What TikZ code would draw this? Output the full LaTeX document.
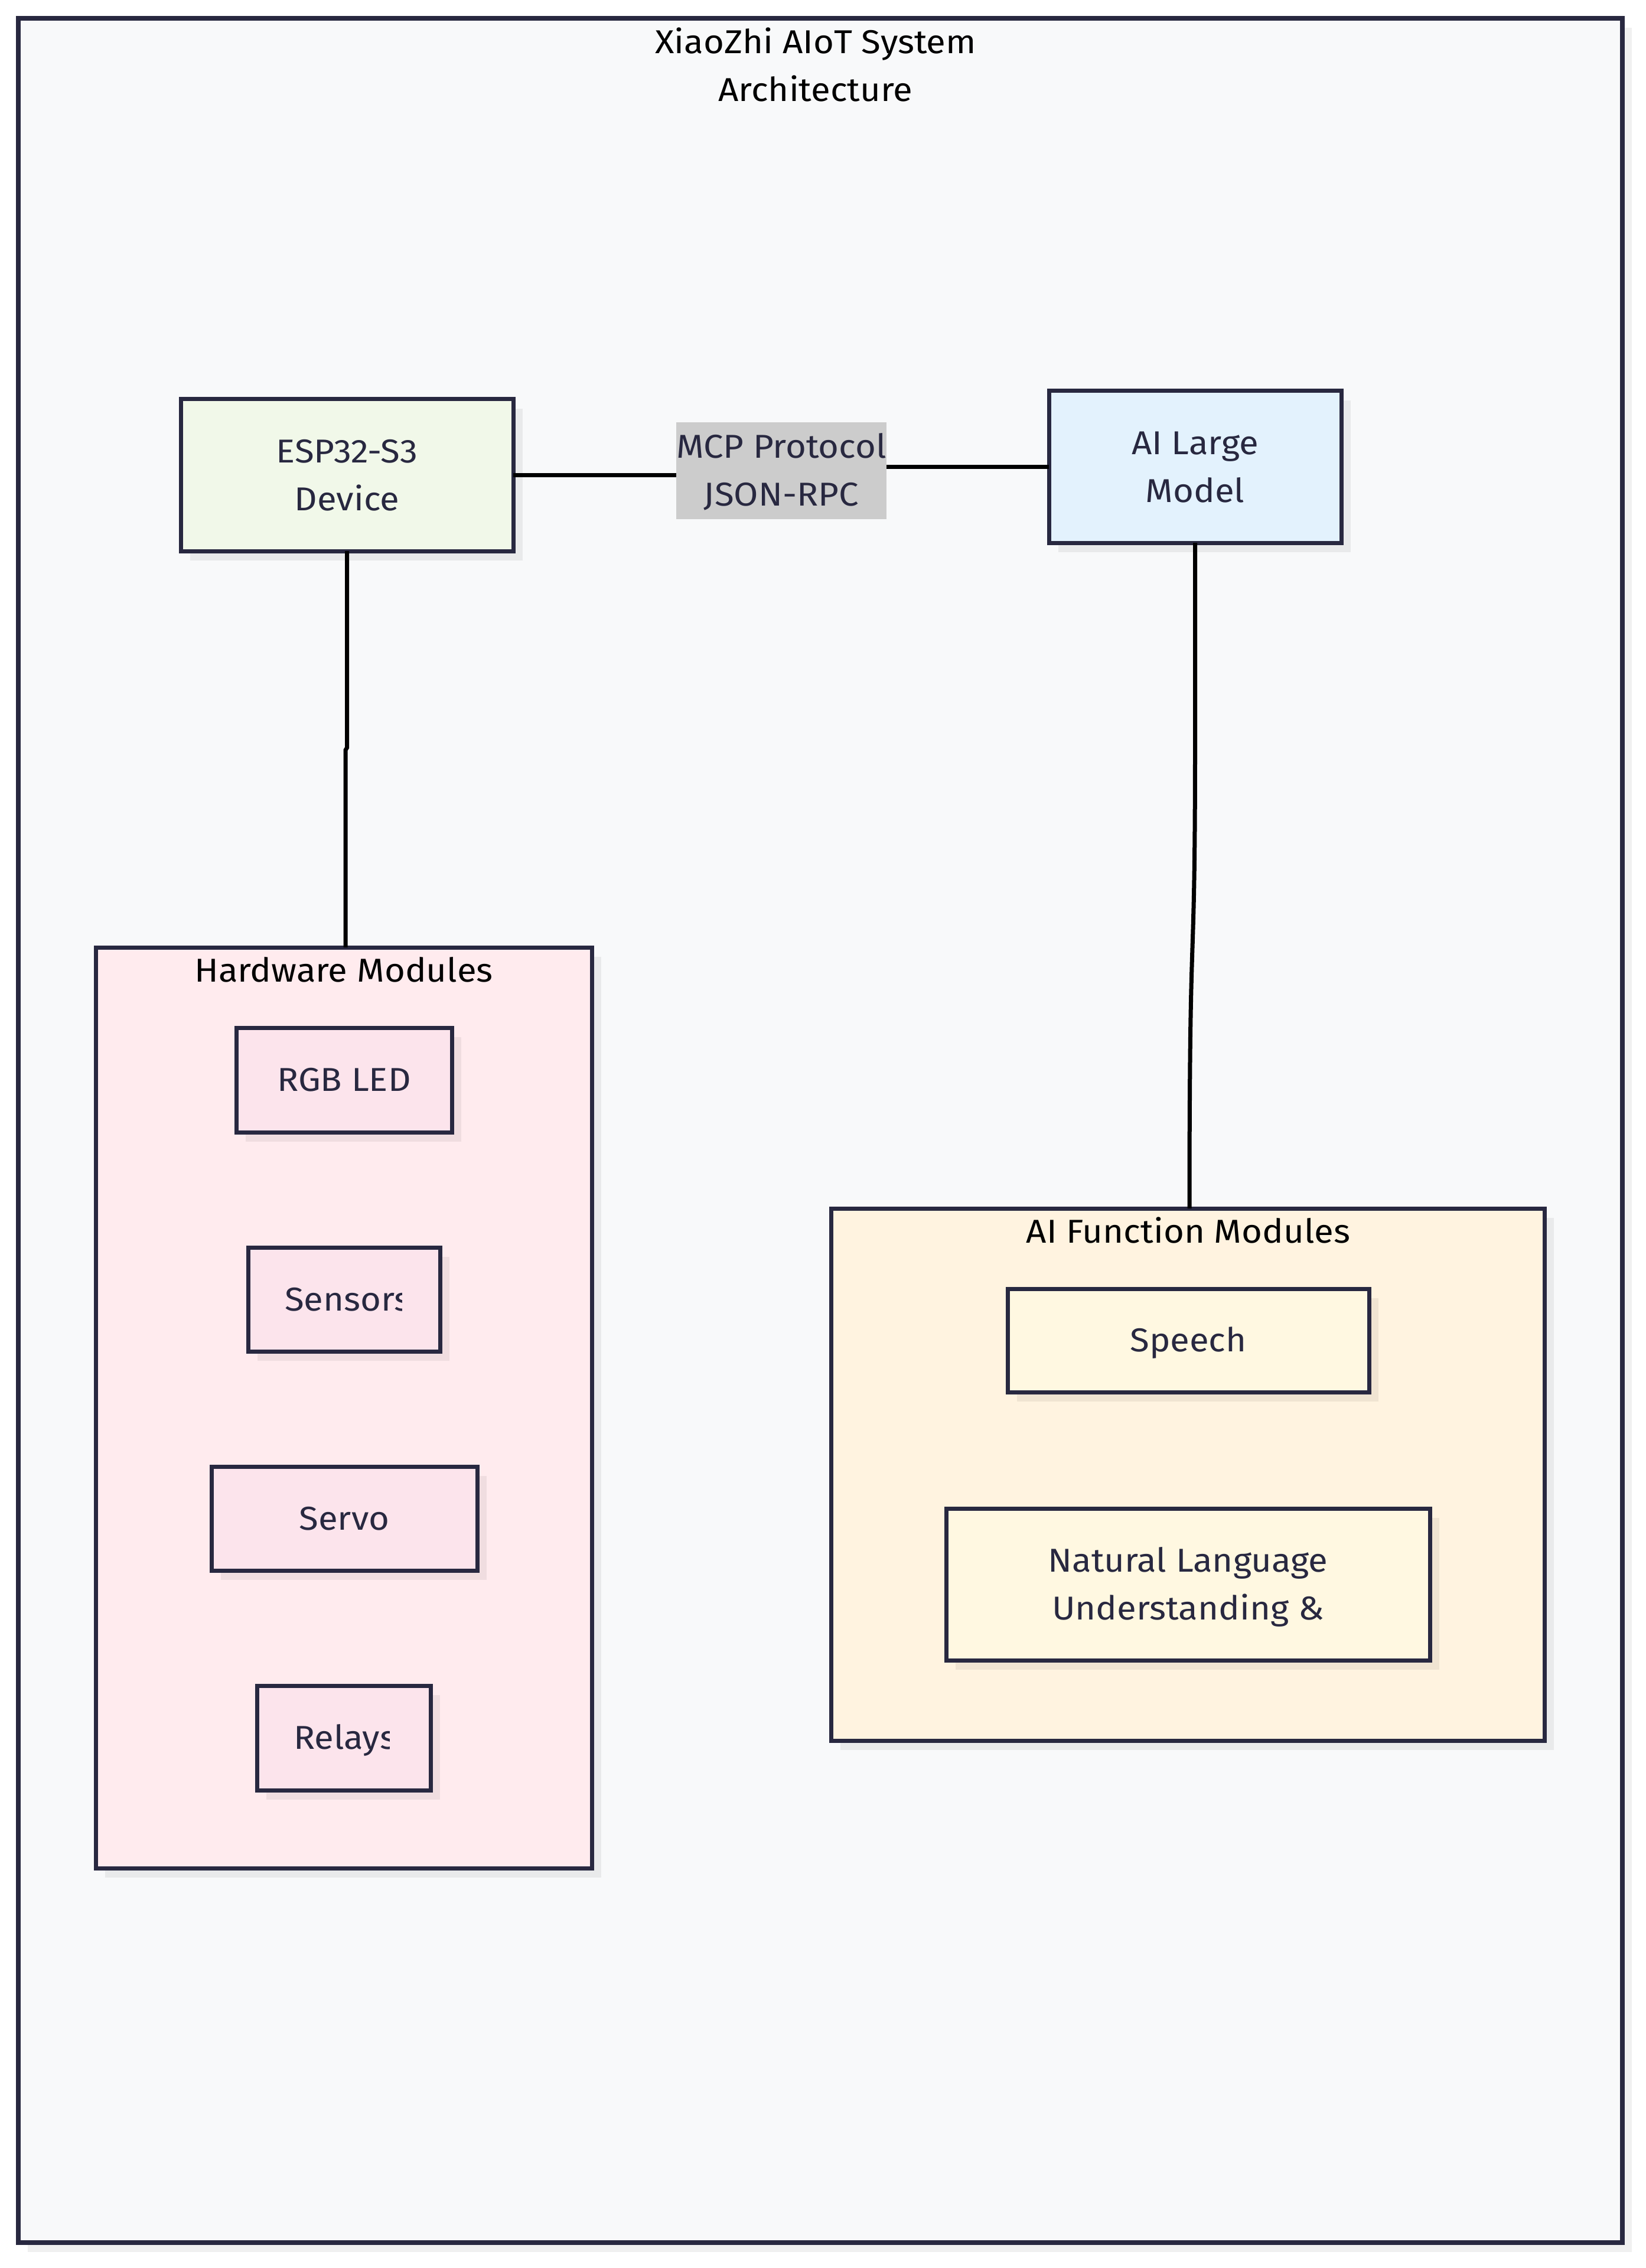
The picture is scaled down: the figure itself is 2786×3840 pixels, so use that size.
\documentclass[tikz,border=0pt]{standalone}
\usepackage{fontspec}
\setmainfont[FakeStretch=1.07]{Fira Sans}
\usetikzlibrary{shadows}
\definecolor{ink}{HTML}{282840}
\definecolor{framefill}{HTML}{F8F9FA}
\definecolor{espfill}{HTML}{F1F8E9}
\definecolor{aifill}{HTML}{E3F2FD}
\definecolor{lblfill}{HTML}{CCCCCC}
\definecolor{hwfill}{HTML}{FFEBEE}
\definecolor{hwnode}{HTML}{FCE4EC}
\definecolor{affill}{HTML}{FFF3E0}
\definecolor{afnode}{HTML}{FFF8E1}
\newcommand\capst{\rule[-0.25em]{0pt}{1.19em}}
\newcommand\fs{\fontsize{14pt}{20.25pt}\selectfont}
\tikzset{
  shade box/.style={drop shadow={shadow xshift=4pt,shadow yshift=-4pt,fill=black,opacity=0.06}},
  boxnode/.style={rectangle, draw=ink, line width=1.75pt, inner sep=0pt, outer sep=0pt,
    align=center, font=\fs, text=ink, shade box},
  cluster/.style={rectangle, draw=ink, line width=1.75pt, inner sep=0pt, outer sep=0pt, shade box},
  ttl/.style={inner sep=0pt, outer sep=0pt, align=center, font=\fs, text=black},
  txt/.style={inner sep=0pt, outer sep=0pt, font=\fs, text=ink},
  link/.style={draw=black, line width=1.75pt},
}
\begin{document}
\begin{tikzpicture}[x=0.25pt,y=-0.25pt]
\useasboundingbox[fill=white] (0,0) rectangle (2786,3840);
% outer frame
\node[cluster, line width=2pt, fill=framefill, minimum width={2716*0.25pt}, minimum height={3766*0.25pt}] (frame) at (1389,1914) {};
\node[ttl] (title) at (1381,111.5) {\capst XiaoZhi AIoT System\\\capst Architecture};
% clusters
\node[cluster, fill=hwfill, minimum width={840*0.25pt}, minimum height={1559*0.25pt}] (hw) at (582,2383.5) {};
\node[ttl] (hwtitle) at (582,1643) {\capst Hardware Modules};
\node[cluster, fill=affill, minimum width={1208*0.25pt}, minimum height={901*0.25pt}] (af) at (2011,2496.5) {};
\node[ttl] (aftitle) at (2012,2085) {\capst AI Function Modules};
% main nodes
\node[boxnode, fill=espfill, minimum width={563*0.25pt}, minimum height={257*0.25pt}] (esp) at (587.5,804.5) {\capst ESP32-S3\\\capst Device};
\node[boxnode, fill=aifill, minimum width={495*0.25pt}, minimum height={257*0.25pt}] (ai) at (2023.5,790.5) {\capst AI Large\\\capst Model};
% hardware nodes
\node[boxnode, fill=hwnode, minimum width={365*0.25pt}, minimum height={177*0.25pt}] (rgb) at (582.5,1828.5) {\capst RGB LED};
\node[boxnode, fill=hwnode, minimum width={325*0.25pt}, minimum height={176*0.25pt}] (sensors) at (582.5,2200) {};
\node[boxnode, fill=hwnode, minimum width={450*0.25pt}, minimum height={176*0.25pt}] (servo) at (583,2571) {\capst Servo};
\node[boxnode, fill=hwnode, minimum width={294*0.25pt}, minimum height={177*0.25pt}] (relays) at (582,2942.5) {};
\begin{scope}
  \clip (420,2112) rectangle (680,2288);
  \node[txt, anchor=west] (sensorstxt) at (482,2200) {\capst Sensors};
\end{scope}
\begin{scope}
  \clip (435,2854) rectangle (659,3031);
  \node[txt, anchor=west] (relaystxt) at (497,2942.5) {\capst Relays};
\end{scope}
% AI function nodes
\node[boxnode, fill=afnode, minimum width={612*0.25pt}, minimum height={175*0.25pt}] (speech) at (2012,2269.5) {\capst Speech};
\node[boxnode, fill=afnode, minimum width={819*0.25pt}, minimum height={257*0.25pt}] (nlu) at (2011.5,2682.5) {\capst Natural Language\\\capst Understanding \&};
% connectors
\coordinate (hwin) at (585,1604);
\coordinate (afin) at (2014,2046);
\node[txt, fill=lblfill, align=center, minimum width={356*0.25pt}, minimum height={164*0.25pt}] (lbl) at (1323,797) {\capst MCP Protocol\\\capst JSON-RPC};
\draw[link] (esp.east) -- (esp.east -| lbl.west);
\draw[link] (lbl.east |- ai.west) -- (ai.west);
\draw[link] (esp.south) -- (587.5,1266) -- (585,1270) -- (hwin);
\draw[link] (ai.south) -- (2023.5,1250) .. controls (2023.5,1700) and (2014,1500) .. (afin);
\end{tikzpicture}
\end{document}
